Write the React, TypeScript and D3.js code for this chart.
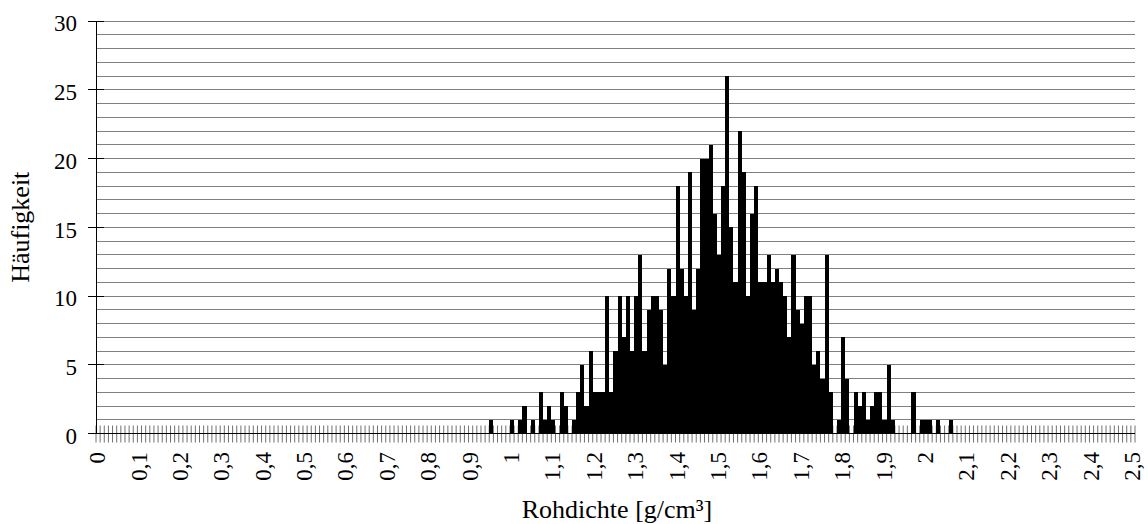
import React from "react";
import * as d3 from "d3";

// Histogram categories: Rohdichte 0.00 .. 2.50 g/cm³ in steps of 0.01 (251 classes)
const binStep = 0.01;
const binCount = 251;

// Häufigkeit per class (index i = density * 100)
const counts: number[] = [
  0, 0, 0, 0, 0, 0, 0, 0, 0, 0, // 0.00
  0, 0, 0, 0, 0, 0, 0, 0, 0, 0, // 0.10
  0, 0, 0, 0, 0, 0, 0, 0, 0, 0, // 0.20
  0, 0, 0, 0, 0, 0, 0, 0, 0, 0, // 0.30
  0, 0, 0, 0, 0, 0, 0, 0, 0, 0, // 0.40
  0, 0, 0, 0, 0, 0, 0, 0, 0, 0, // 0.50
  0, 0, 0, 0, 0, 0, 0, 0, 0, 0, // 0.60
  0, 0, 0, 0, 0, 0, 0, 0, 0, 0, // 0.70
  0, 0, 0, 0, 0, 0, 0, 0, 0, 0, // 0.80
  0, 0, 0, 0, 0, 1, 0, 0, 0, 0, // 0.90
  1, 0, 1, 2, 0, 1, 0, 3, 1, 2, // 1.00
  1, 0, 3, 2, 0, 1, 3, 5, 2, 6, // 1.10
  3, 3, 3, 10, 3, 6, 10, 7, 10, 6, // 1.20
  10, 13, 6, 9, 10, 10, 9, 5, 12, 10, // 1.30
  18, 12, 10, 19, 9, 12, 20, 20, 21, 16, // 1.40
  13, 18, 26, 15, 11, 22, 19, 10, 16, 18, // 1.50
  11, 11, 13, 11, 12, 11, 10, 7, 13, 9, // 1.60
  8, 10, 10, 5, 6, 4, 13, 3, 0, 1, // 1.70
  7, 4, 0, 3, 2, 3, 1, 2, 3, 3, // 1.80
  1, 5, 1, 0, 0, 0, 0, 3, 0, 1, // 1.90
  1, 1, 0, 1, 0, 0, 1, 0, 0, 0, // 2.00
  0, 0, 0, 0, 0, 0, 0, 0, 0, 0, // 2.10
  0, 0, 0, 0, 0, 0, 0, 0, 0, 0, // 2.20
  0, 0, 0, 0, 0, 0, 0, 0, 0, 0, // 2.30
  0, 0, 0, 0, 0, 0, 0, 0, 0, 0, // 2.40
  0, // 2.50
];

const xTickLabels = [
  "0", "0,1", "0,2", "0,3", "0,4", "0,5", "0,6", "0,7", "0,8", "0,9",
  "1", "1,1", "1,2", "1,3", "1,4", "1,5", "1,6", "1,7", "1,8", "1,9",
  "2", "2,1", "2,2", "2,3", "2,4", "2,5",
];
const xLabelEvery = 10; // one label every 10 classes
const yMajorTicks = [0, 5, 10, 15, 20, 25, 30];
const yGridValues = d3.range(1, 31);

const xTitle = "Rohdichte [g/cm³]";
const yTitle = "Häufigkeit";

const FONT = "'Liberation Serif', 'Times New Roman', serif";

export default function App() {
  const W = 1148;
  const H = 524;
  const left = 96;
  const right = 1135;
  const top = 21;
  const bottom = 433.5;

  const x = d3.scaleLinear().domain([0, binCount]).range([left, right]);
  const y = d3.scaleLinear().domain([0, 30]).range([bottom, top]);

  const bins = counts.map((c, i) => ({ i, c, d: i * binStep }));
  const boundaries = d3.range(0, binCount + 1);

  return (
    <div style={{ position: "absolute", left: 0, top: 0 }}>
      <svg width={W} height={H} style={{ display: "block", background: "#fff" }}>
        {/* horizontal gridlines */}
        <g shapeRendering="crispEdges">
          {yGridValues.map((v) => (
            <line key={v} x1={left} x2={right} y1={y(v)} y2={y(v)} stroke="#808080" strokeWidth={1} />
          ))}
        </g>
        {/* cross tick marks on category axis */}
        <g>
          {boundaries.map((b) => (
            <line key={b} x1={x(b)} x2={x(b)} y1={bottom - 8} y2={bottom + 9} stroke="#707070" strokeWidth={1} />
          ))}
        </g>
        {/* bars */}
        <g shapeRendering="crispEdges">
          {bins
            .filter((b) => b.c > 0)
            .map((b) => (
              <rect
                key={b.i}
                x={x(b.i)}
                width={x(b.i + 1) - x(b.i)}
                y={y(b.c)}
                height={y(0) - y(b.c)}
                fill="#000"
              />
            ))}
        </g>
        {/* axes */}
        <g shapeRendering="crispEdges">
          <line x1={left} x2={right} y1={bottom} y2={bottom} stroke="#000" strokeWidth={1.3} />
          <line x1={left} x2={left} y1={top} y2={bottom} stroke="#000" strokeWidth={1} />
          {yMajorTicks.map((v) => (
            <line key={v} x1={left - 8} x2={left + 8} y1={y(v)} y2={y(v)} stroke="#000" strokeWidth={1} />
          ))}
        </g>
        {/* y tick labels */}
        <g fontFamily={FONT} fontSize={23} fill="#000">
          {yMajorTicks.map((v) => (
            <text key={v} x={77} y={y(v)} dy="0.45em" textAnchor="end">
              {v}
            </text>
          ))}
        </g>
        {/* x tick labels */}
        <g fontFamily={FONT} fontSize={23} fill="#000">
          {xTickLabels.map((lab, k) => {
            const cx = x(k * xLabelEvery + 0.5) - 1;
            return (
              <text key={lab} transform={`translate(${cx},452) rotate(-90)`} dy="0.35em" textAnchor="end">
                {lab}
              </text>
            );
          })}
        </g>
        {/* titles */}
        <text x={617} y={518} fontFamily={FONT} fontSize={26} textAnchor="middle" fill="#000">
          {xTitle}
        </text>
        <text
          transform={`translate(29,${(top + bottom) / 2}) rotate(-90)`}
          fontFamily={FONT}
          fontSize={26}
          textAnchor="middle"
          fill="#000"
        >
          {yTitle}
        </text>
      </svg>
    </div>
  );
}
